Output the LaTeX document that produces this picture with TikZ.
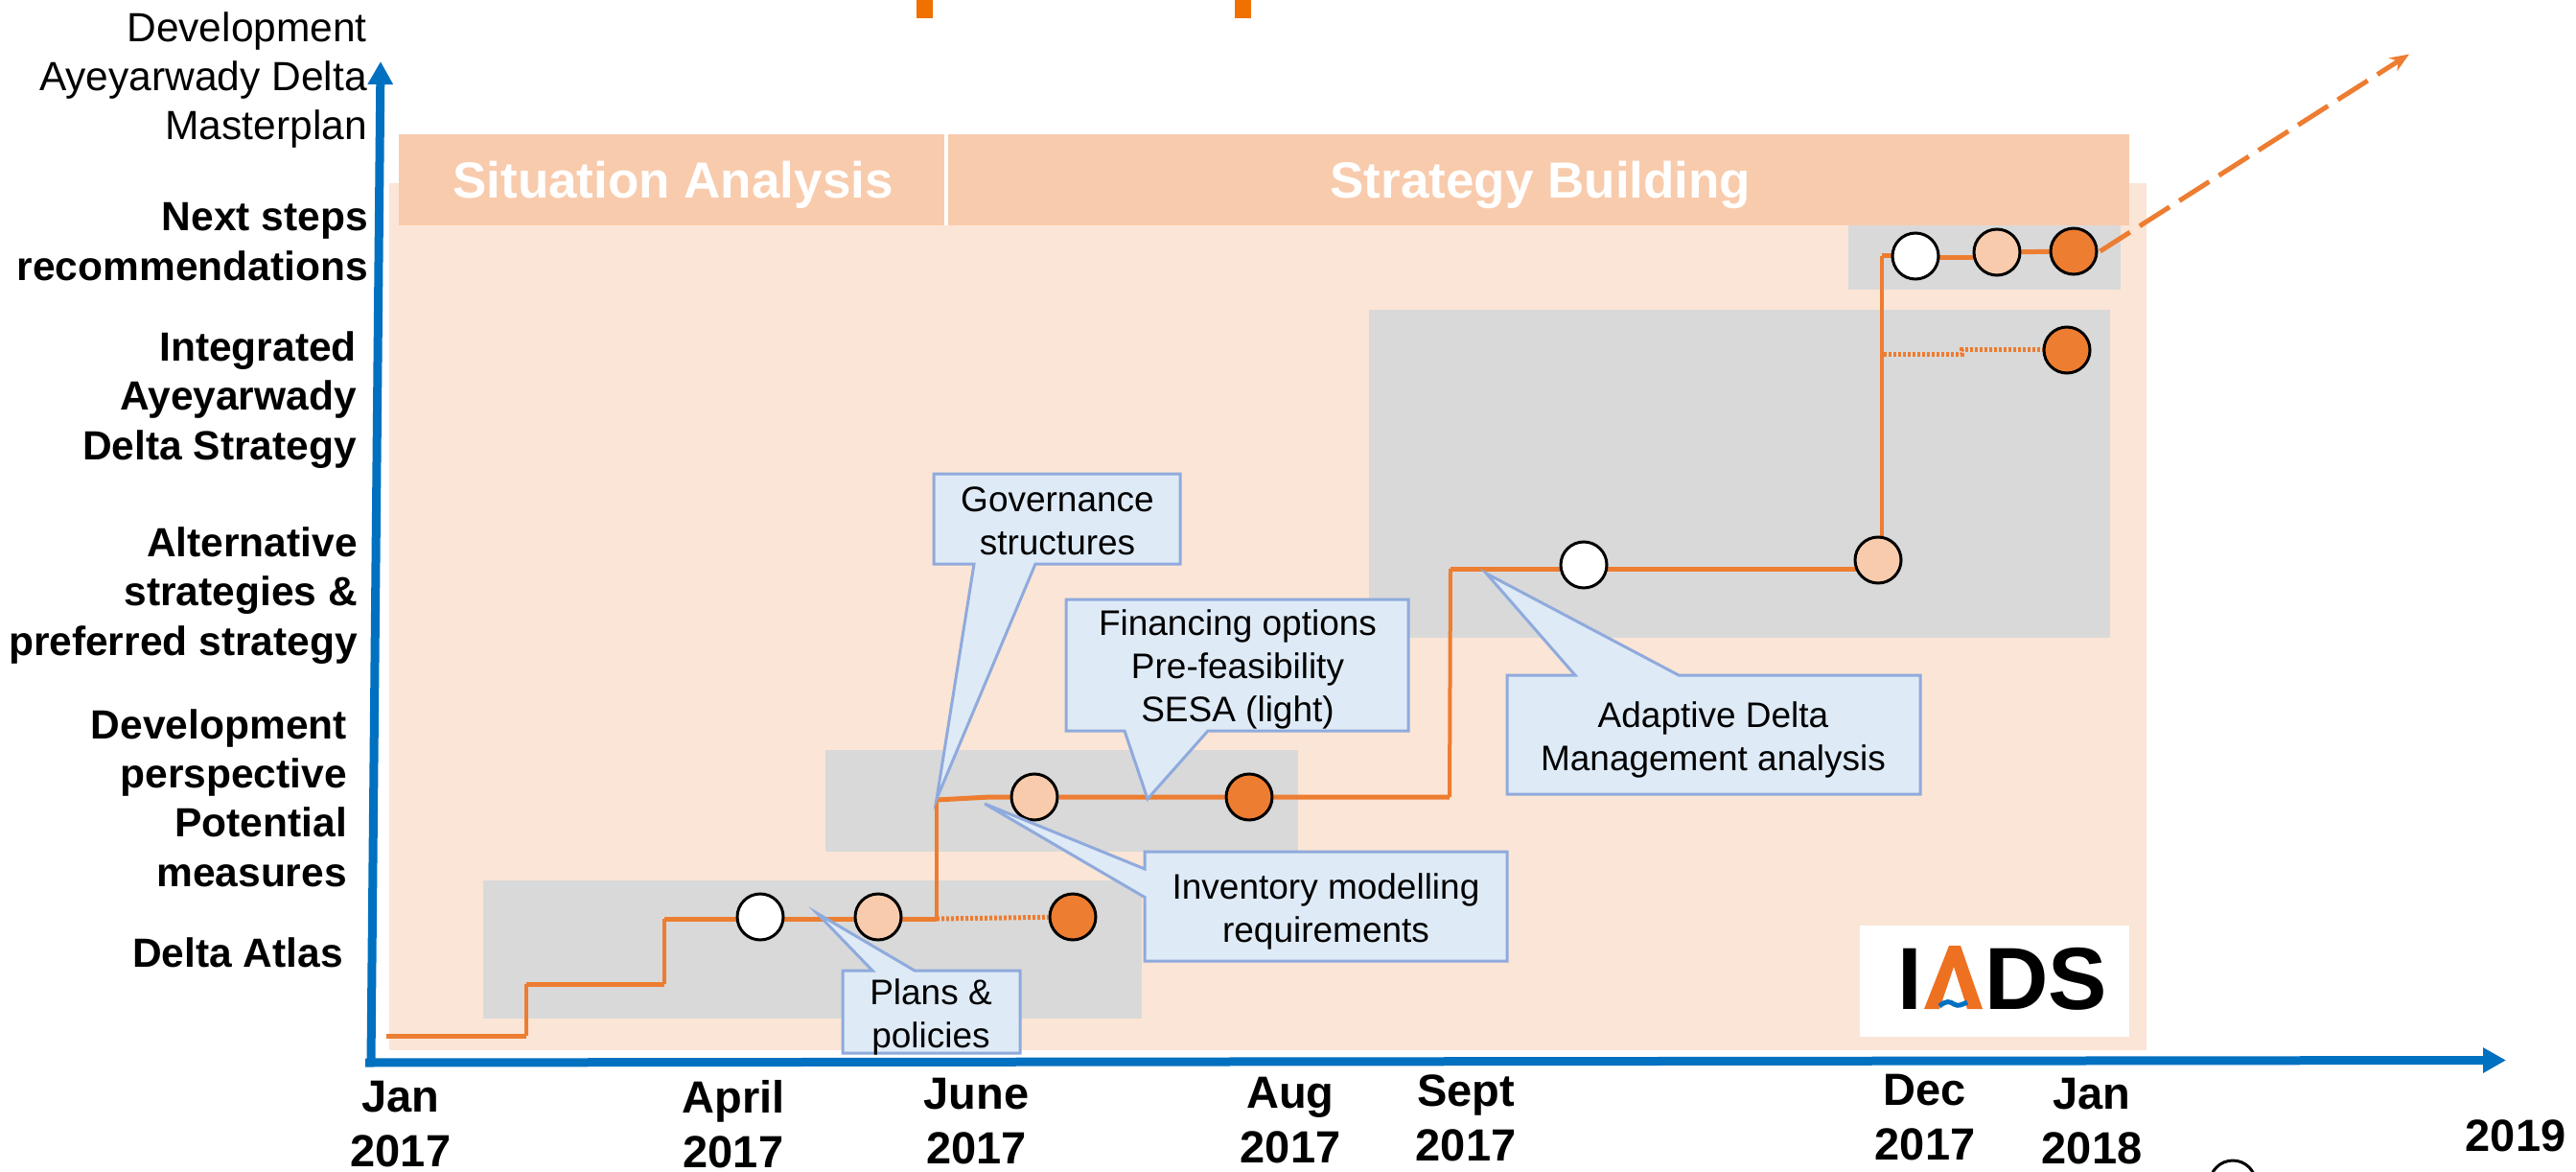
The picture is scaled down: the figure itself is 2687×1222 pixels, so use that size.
\documentclass[tikz,border=0pt]{standalone}
\usepackage{fontspec}
\setmainfont{Liberation Sans}
\usetikzlibrary{arrows.meta}
\definecolor{peachL}{HTML}{FBE5D6}
\definecolor{peachM}{HTML}{F8CBAD}
\definecolor{grayB}{HTML}{D9D9D9}
\definecolor{orangeL}{HTML}{ED7D31}
\definecolor{stubO}{HTML}{F07000}
\definecolor{logoO}{HTML}{EE7122}
\definecolor{axisB}{HTML}{0070C0}
\definecolor{callF}{HTML}{DEEAF6}
\definecolor{callD}{HTML}{8FAADC}
\pgfdeclarelayer{panels}
\pgfdeclarelayer{lines}
\pgfsetlayers{panels,lines,main}
\tikzset{
 panel/.style={fill=#1,draw=none},
 call/.style={fill=callF,draw=callD,line width=3pt,line join=miter},
 calltext/.style={font=\fontsize{37}{45}\selectfont,align=center,text=black,inner sep=0pt},
 axislabel/.style={font=\fontsize{42.5}{51}\selectfont,align=right,anchor=east,inner sep=0pt},
 boldlabel/.style={font=\fontsize{42.5}{51.3}\selectfont\bfseries,align=right,anchor=east,inner sep=0pt},
 datelabel/.style={font=\fontsize{47}{57}\selectfont\bfseries,align=center,inner sep=0pt},
 headtext/.style={font=\fontsize{53}{60}\selectfont\bfseries,text=white,inner sep=0pt},
 route/.style={draw=orangeL,line width=5pt,line join=miter},
 riser/.style={draw=orangeL,line width=4pt,line join=miter},
 dots/.style={draw=orangeL,line width=5pt,dash pattern=on 3pt off 2pt},
 milestone/.style={circle,draw=black,line width=3pt,minimum size=48pt,inner sep=0pt,fill=#1},
 axisline/.style={draw=axisB,line width=9pt,-{Triangle[length=24pt,width=25pt]}},
 logotext/.style={inner sep=0pt,font=\fontsize{92}{92}\selectfont\bfseries,anchor=base west},
}
\begin{document}
\begin{tikzpicture}[x=1pt,y=-1pt]
\useasboundingbox (0,0) rectangle (2687,1222);
% panels
\begin{pgfonlayer}{panels}
\fill[panel=peachL] (406,191) rectangle (2239,1095);
\fill[panel=peachM] (416,140) rectangle (2221,235);
\fill[panel=white] (984.5,140) rectangle (988.5,235);
\fill[panel=grayB] (504,918) rectangle (1191,1061.5);
\fill[panel=grayB] (861,782) rectangle (1354,887.5);
\fill[panel=grayB] (1428,323) rectangle (2201,665);
\fill[panel=grayB] (1928,235) rectangle (2212,302);
\fill[panel=stubO] (956,0) rectangle (973,18.6);
\fill[panel=stubO] (1288,0) rectangle (1305,18.6);
\end{pgfonlayer}
\node[headtext] (sa) at (702,193) {Situation Analysis};
\node[headtext] (sb) at (1607,193) {Strategy Building};
% axes
\coordinate (o1) at (387,1108);
\coordinate (ytip) at (397,64);
\coordinate (o2) at (381,1108);
\coordinate (xtip) at (2614,1105.5);
\draw[axisline] (o1) -- (ytip);
\draw[axisline] (o2) -- (xtip);
% milestones
\coordinate (p0) at (403,1080);
\node[milestone=white] (w1) at (793,956) {};
\node[milestone=peachM] (m1) at (916,956) {};
\node[milestone=orangeL] (d1) at (1119,956) {};
\node[milestone=peachM] (m2) at (1079,831) {};
\node[milestone=orangeL] (d2) at (1303,831) {};
\node[milestone=white] (w3) at (1652,589) {};
\node[milestone=peachM] (m3) at (1959,584) {};
\node[milestone=white] (w4) at (1998,267) {};
\node[milestone=peachM] (m4) at (2083,263) {};
\node[milestone=orangeL] (d4) at (2163,262) {};
\node[milestone=orangeL] (d5) at (2156,365) {};
% route, under the milestones
\begin{pgfonlayer}{lines}
\coordinate (w3b) at (1652,593);
\coordinate (m3b) at (1959,593);
\coordinate (m3t) at (1963,560);
\coordinate (w1b) at (793,958);
\coordinate (m1b) at (916,958);
\coordinate (w4b) at (1998,269);
\coordinate (m4b) at (2083,269);
\draw[route] (p0) -- (549,1080);
\draw[riser] (549,1080) -- (549,1026);
\draw[route] (549,1026) -- (693,1026);
\draw[riser] (693,1026) -- (693,958);
\draw[route] (693,958) -- (w1b) -- (m1b) -- (977,958);
\draw[riser] (977,958) -- (977,834);
\draw[route] (977,834) -- (1033,831) -- (m2) -- (d2) -- (1512,831);
\draw[riser] (1512,831) -- (1513,593);
\draw[route] (1513,593) -- (w3b) -- (m3b);
\draw[riser] (m3t) -- (1963,267);
\draw[route] (1963,267) -- (w4);
\draw[route] (w4b) -- (m4b);
\draw[route] (m4) -- (d4);
\draw[dots] (977,958) -- (d1);
\draw[dots] (1965,370) -- (2046,370) -- (2046,365) -- (d5);
\draw[draw=orangeL,line width=5pt,dash pattern=on 37pt off 12pt,-{Stealth[length=20pt,width=16pt]}] (d4.east) ++(2,0) -- (2513,56.5);
\end{pgfonlayer}
% callouts
\draw[call] (974,494) -- (1231,494) -- (1231,588) -- (1080,588) -- (977,833) -- (1016,588) -- (974,588) -- cycle;
\node[calltext] (gov) at (1103,543) {Governance\\structures};
\draw[call] (1112,625) -- (1469,625) -- (1469,762) -- (1260,762) -- (1197,833) -- (1173,762) -- (1112,762) -- cycle;
\node[calltext] (fin) at (1291,698) {Financing options\\Pre-feasibility\\SESA (light)};
\draw[call] (1194,888) -- (1572,888) -- (1572,1002) -- (1194,1002) -- (1194,935.5) -- (1027,838) -- (1194,906) -- cycle;
\node[calltext] (inv) at (1383,950) {Inventory modelling\\requirements};
\draw[call] (879,1012) -- (910,1012) -- (852,952) -- (954,1012) -- (1064,1012) -- (1064,1098) -- (879,1098) -- cycle;
\node[calltext] (pla) at (971,1060) {Plans \&\\policies};
\draw[call] (1572,704) -- (1643,704) -- (1550.5,598) -- (1751,704) -- (2003,704) -- (2003,828) -- (1572,828) -- cycle;
\node[calltext] (ada) at (1787,771) {Adaptive Delta\\Management analysis};
% stray circle
\node[milestone=white] (stray) at (2329,1234) {};
% logo
\fill[panel=white] (1940,965) rectangle (2221,1081);
\node[logotext] (logoI) at (1979,1052) {I};
\fill[logoO] (2007,1052) -- (2033,986) -- (2045,986) -- (2068,1052) -- (2052,1052) -- (2038,1008) -- (2023,1052) -- cycle;
\draw[axisB,line width=5pt] (2023,1049) .. controls (2030,1043) and (2034,1044) .. (2038,1047) .. controls (2043,1050) and (2047,1047) .. (2052,1045);
\node[logotext] (logoDS) at (2070,1052) {DS};
% y labels
\node[axislabel] (y1) at (383,84) {Development\\Ayeyarwady Delta\\Masterplan};
\node[boldlabel] (y2) at (384,252) {Next steps\\recommendations};
\node[boldlabel] (y3) at (372,417) {Integrated\\Ayeyarwady\\Delta Strategy};
\node[boldlabel] (y4) at (373,621) {Alternative\\strategies \&\\preferred strategy};
\node[boldlabel] (y5) at (362,832) {Development\\perspective\\Potential\\measures};
\node[boldlabel] (y6) at (358,993) {Delta Atlas};
% x labels
\node[datelabel] (x1) at (418,1172) {Jan\\2017};
\node[datelabel] (x2) at (765,1172) {April\\2017};
\node[datelabel] (x3) at (1018.5,1169) {June\\2017};
\node[datelabel] (x4) at (1346,1168) {Aug\\2017};
\node[datelabel] (x5) at (1529,1166) {Sept\\2017};
\node[datelabel] (x6) at (2008,1165) {Dec\\2017};
\node[datelabel] (x7) at (2182,1169) {Jan\\2018};
\node[datelabel] (x8) at (2624,1184) {2019};
\end{tikzpicture}
\end{document}
